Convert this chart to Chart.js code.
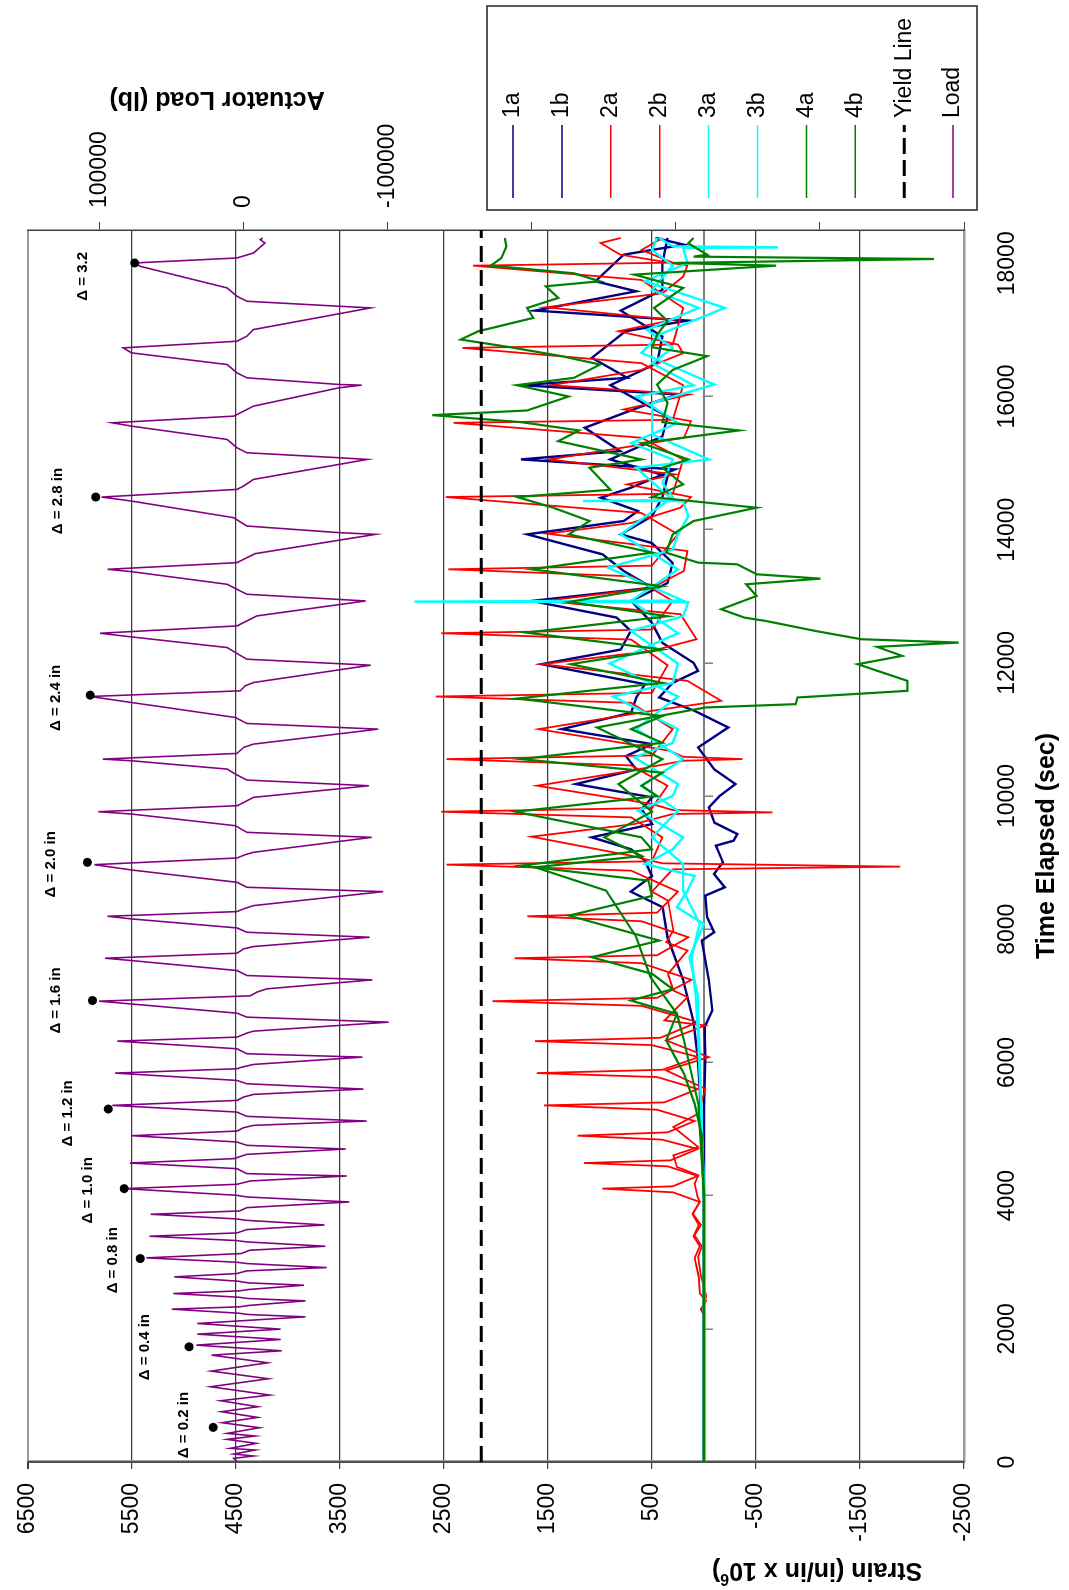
<!DOCTYPE html>
<html>
<head>
<meta charset="utf-8">
<title>Strain gauges and actuator load vs time</title>
<script src="https://cdn.jsdelivr.net/npm/chart.js@4.4.0/dist/chart.umd.min.js"></script>
<style>
  html, body { margin: 0; padding: 0; background: #fff; }
  body { width: 1069px; height: 1590px; overflow: hidden; position: relative; }
  /* the chart is drawn landscape and turned a quarter turn, like the scanned page */
  #turn { position: absolute; left: 0; top: 0; width: 1590px; height: 1069px;
          transform-origin: 0 0; transform: translate(0, 1590px) rotate(-90deg); }
</style>
</head>
<body>
<div id="turn"><canvas id="chart" width="1590" height="1069"></canvas></div>
<script>
const FONT = '"Liberation Sans", Arial, sans-serif';

const timeTicks = [0, 2000, 4000, 6000, 8000, 10000, 12000, 14000, 16000, 18000];
const strainTicks = [-2500, -1500, -500, 500, 1500, 2500, 3500, 4500, 5500, 6500];
const loadTicks = [-500000, -400000, -300000, -200000, -100000, 0, 100000];

// [time (sec), actuator load (lb)]
const loadPts = [[5,4800],[55,7000],[90,-6700],[120,7000],[180,-7800],[205,9400],[280,-8500],[340,11600],[390,-7800],[430,11600],[515,-10800],[590,15100],[670,-9400],[755,15500],[830,-9700],[920,16200],[1005,-18100],[1130,23100],[1250,-17000],[1365,22600],[1490,-16500],[1605,22400],[1670,-26200],[1755,33000],[1840,-25500],[1920,32300],[1995,-25500],[2080,32300],
  [2180,-42700],[2215,-3000],[2235,4000],[2295,50100],[2330,3000],[2350,-3000],[2420,-42700],[2455,-3000],[2475,4000],[2530,49000],[2570,3000],[2590,-3000],[2655,-41700],[2690,-3000],[2715,4000],[2780,48300],[2830,4800],[2870,-2000],[2920,-57500],[2980,-2000],[3000,5000],[3065,67800],[3130,2000],[3180,-4000],[3240,-56600],[3305,-2000],[3325,5000],[3390,65500],[3440,4800],[3490,-2100],[3560,-56000],[3630,-1000],[3650,5000],[3720,64800],[3770,3000],[3820,-2100],[3905,-73100],[3980,-2000],[4005,5000],[4105,83100],[4170,4800],[4220,-4500],[4295,-71500],[4330,-2100],[4405,4800],[4490,79200],[4555,7000],[4620,-2100],[4700,-70800],[4755,-2100],[4805,4800],[4900,77600],
  [4970,4800],[5020,200],[5055,-6700],[5120,-85300],[5190,-2100],[5255,4800],[5355,91400],[5430,4800],[5480,200],[5520,-6700],[5600,-83000],[5680,-2100],[5730,4800],[5840,89500],[5905,4800],[5930,1300],[5970,-6700],[6080,-82300],[6130,-2100],[6205,4800],[6320,87900],[6380,4800],[6440,-2100],[6470,-6700],[6605,-100600],[6680,-2100],[6740,4800],[6920,100500],[7000,-4400],[7055,-9000],[7105,-15900],[7240,-89200],[7305,-2100],[7380,4800],[7530,78000],[7565,96400],[7640,4800],[7705,200],[7740,-6700],[7880,-87300],[7955,-2100],[8020,4800],[8155,78000],[8195,94600],[8265,4800],[8305,200],[8355,-6700],[8565,-96700],[8630,-2100],[8705,4800],[8890,78000],[8970,103700],
  [9070,4800],[9120,-1000],[9155,-6700],[9380,-88700],[9455,-2100],[9555,5900],[9730,78000],[9765,101000],[9855,4800],[9890,1300],[9980,-6700],[10155,-86900],[10240,-2100],[10330,5900],[10405,11600],[10530,78000],[10555,98000],[10640,4800],[10730,200],[10780,-6700],[11005,-93300],[11090,-2100],[11180,5900],[11405,78000],[11495,106700],[11580,2500],[11655,-1000],[11705,-6700],[11965,-88000],[12055,-2100],[12155,5900],[12230,11600],[12390,78000],[12445,99800],[12555,4800],[12630,-2100],[12705,-9000],[12930,-84600],[13030,-2100],[13105,4800],[13180,11600],[13370,78000],[13405,94600],[13505,4800],[13555,200],[13640,-7800],[13930,-91500],
  [13955,-66300],[14055,-2100],[14180,7000],[14430,78000],[14490,98700],[14605,4800],[14655,200],[14755,-6700],[15055,-85700],[15080,-66300],[15155,-2100],[15230,4800],[15355,11600],[15555,78000],[15605,91400],[15705,7000],[15780,200],[15855,-6700],[16130,-66000],[16170,-81800],[16180,-66300],[16280,-2100],[16355,4800],[16480,11600],[16655,78000],[16730,83800],[16830,4800],[16905,-2100],[17005,-6700],[17330,-88000],[17355,-66300],[17430,-2100],[17505,4800],[17630,11600],[17955,72000],[18005,75800],[18080,4800],[18155,-6700],[18305,-14700],[18355,-11300],[18380,-13100]];

// [time (sec), strain (in/in x 10^6)]
const strain1a = [[0,0],[4000,0],[5330,0],[6080,-13],[6530,-6],[6780,-81],[7230,-47],[7830,21],[7955,-98],[8180,-30],[8505,-13],[8630,-200],[8830,-98],[9005,-183],[9255,-115],[9330,-285],[9430,-320],[9600,-100],[9830,-47],[10000,-150],[10180,-302],[10400,-100],[10730,56],[11030,-234],[11280,90],[11480,430],[11700,300],[11880,56],[12000,100],[12300,400],[12600,500],[12930,700],[13200,350],[13500,300],[13800,500],[13930,800],[14200,500],[14490,400],[14800,350],[15055,900],[15400,400],[15700,350],[16170,900],[16500,450],[16900,400],[17290,800],[17600,400],[18000,400],[18380,350]];

const strain1b = [[0,0],[4000,0],[4700,20],[5600,40],[6080,60],[6605,100],[7240,200],[7880,350],[8330,396],[8565,703],[8800,500],[9030,567],[9200,700],[9380,1078],[9580,498],[9800,600],[9980,498],[10180,1231],[10400,650],[10600,750],[10780,498],[11005,1367],[11250,700],[11480,650],[11680,567],[11980,1562],[12200,800],[12480,703],[12680,839],[12930,1657],[13130,498],[13380,771],[13630,976],[13930,1698],[14130,771],[14280,634],[14480,992],[14630,703],[14905,277],[15055,1759],[15180,805],[15530,1146],[15890,532],[16030,243],[16170,1759],[16280,737],[16580,1078],[16980,754],[17140,158],[17290,1623],[17580,652],[17730,1044],[18130,771],[18280,192],[18380,465]];

const strain2a = [[0,0],[2300,0],[2500,-20],[2800,30],[3080,55],[3240,20],[3405,90],[3560,30],[3730,107],[3905,40],[3980,60],[4180,90],[4305,55],[4430,260],[4605,294],[4730,55],[5030,294],[5230,55],[5605,-13],[5880,362],[6080,-47],[6330,362],[6555,-13],[6630,379],[6980,158],[7080,294],[7330,345],[7680,158],[7805,362],[7980,294],[8430,345],[8565,500],[8680,430],[8900,300],[8940,-1887],[8990,400],[9105,703],[9390,1657],[9580,669],[9730,300],[9755,-660],[9790,300],[9880,498],[10155,1606],[10380,703],[10530,200],[10555,-371],[10590,200],[10680,328],[11005,1589],[11280,498],[11430,-166],[11730,158],[11980,1555],[12180,498],[12355,72],[12730,226],[12930,1521],[13130,498],[13380,192],[13680,158],[13940,1510],[14100,700],[14330,226],[14490,124],[14680,737],[14830,277],[15055,1487],[15380,192],[15630,124],[15805,771],[16030,140],[16170,1470],[16400,600],[16650,200],[16780,250],[16980,822],[17150,300],[17340,1521],[17550,400],[17800,200],[17965,160],[18130,805],[18305,993],[18380,800]];

const strain2b = [[0,0],[2200,0],[2295,30],[2420,-20],[2530,40],[2780,50],[3065,90],[3240,40],[3390,100],[3560,50],[3720,110],[3905,40],[4050,300],[4105,976],[4140,300],[4295,60],[4440,350],[4490,1153],[4530,320],[4700,60],[4840,400],[4900,1214],[4950,350],[5120,90],[5290,450],[5355,1538],[5400,380],[5600,60],[5780,450],[5840,1606],[5890,400],[6080,50],[6260,500],[6320,1623],[6370,420],[6605,60],[6850,600],[6920,2032],[6970,450],[7240,120],[7490,600],[7565,1821],[7610,450],[7880,150],[8120,600],[8195,1698],[8250,450],[8565,250],[8880,700],[8970,2475],[9020,500],[9380,400],[9680,700],[9765,2526],[9820,500],[10155,350],[10460,700],[10555,2475],[10610,500],[11005,300],[11400,700],[11495,2577],[11550,500],[11965,350],[12350,700],[12445,2526],[12500,500],[12930,300],[13300,700],[13405,2458],[13460,500],[13930,250],[14250,600],[14490,2482],[14540,300],[15055,200],[15380,600],[15605,2407],[15650,300],[16170,200],[16500,600],[16730,2322],[16780,300],[17330,200],[17750,600],[17965,2219],[18010,300],[18200,600],[18380,400]];

const strain3a = [[0,0],[4000,0],[5000,20],[6000,40],[7000,60],[7580,140],[8080,0],[8330,260],[8580,158],[8800,90],[8980,567],[9200,300],[9380,200],[9780,634],[10000,300],[10180,250],[10580,669],[10800,300],[11005,250],[11495,873],[11700,300],[11990,250],[12480,703],[12700,200],[12910,150],[12920,2782],[12935,200],[13430,925],[13700,300],[13930,250],[14200,150],[14420,200],[14430,1163],[14445,300],[14930,652],[15055,-47],[15430,498],[15905,498],[16180,-98],[16655,600],[16930,430],[17330,-200],[17730,566],[18005,158],[18230,200],[18240,-711],[18255,300],[18380,430]];

const strain3b = [[0,0],[4000,0],[5500,30],[6500,60],[7000,80],[7580,120],[8080,40],[8580,200],[8980,200],[9380,500],[9780,250],[10155,600],[10555,200],[11005,650],[11495,250],[11990,907],[12445,250],[12930,700],[13405,250],[13930,800],[14490,300],[14700,400],[15055,300],[15300,700],[15605,250],[16000,650],[16170,100],[16500,500],[16730,300],[17000,550],[17330,50],[17600,500],[17965,300],[18200,500],[18380,450]];

const strain4a = [[0,0],[4000,0],[4900,20],[5380,90],[5830,192],[6330,362],[6730,260],[6930,703],[7100,300],[7330,498],[7580,1078],[7830,430],[8205,1299],[8500,500],[8730,532],[8955,1759],[9200,500],[9380,600],[9765,1811],[10000,450],[10155,600],[10350,400],[10555,1759],[10800,400],[11005,700],[11200,400],[11465,1794],[11700,400],[11980,1282],[12200,400],[12455,1708],[12700,350],[12915,1299],[13150,400],[13405,1657],[13655,500],[13930,1300],[14130,1100],[14330,1450],[14490,1794],[14600,900],[14930,1100],[15055,600],[15330,1400],[15490,1200],[15615,1759],[15720,2611],[15790,1700],[16000,1300],[16170,1800],[16280,1250],[16480,1000],[16600,1350],[16740,1862],[16855,2339],[16980,2168],[17180,1640],[17330,1700],[17480,1400],[17655,1521],[17730,1000],[17850,1250],[17965,2049],[18080,1947],[18250,1900],[18380,1913]];

const strain4b = [[0,0],[4000,0],[5380,55],[6330,192],[6730,260],[7280,515],[7890,652],[8580,941],[8930,1623],[9100,600],[9380,958],[9765,500],[10180,822],[10555,400],[11030,1027],[11330,-13],[11380,-882],[11480,-899],[11580,-1955],[11730,-1955],[11980,-1478],[12105,-1904],[12240,-1666],[12305,-2450],[12355,-1512],[12480,-1069],[12630,-592],[12680,-388],[12805,-166],[13005,-507],[13180,-405],[13265,-1120],[13330,-507],[13480,-320],[13505,55],[13655,362],[13930,300],[14130,100],[14330,-507],[14490,500],[14680,200],[14930,400],[15055,150],[15300,600],[15490,-337],[15615,400],[15905,350],[16180,450],[16400,300],[16605,-30],[16740,500],[16930,450],[17130,350],[17330,480],[17630,200],[17830,669],[17965,-694],[18005,300],[18065,-2211],[18100,100],[18130,-30],[18300,150],[18380,100]];

const yieldStrain = 2140;

// first cycle of each displacement step
const stepLabels = ['Δ = 0.2 in', 'Δ = 0.4 in', 'Δ = 0.8 in', 'Δ = 1.0 in', 'Δ = 1.2 in', 'Δ = 1.6 in', 'Δ = 2.0 in', 'Δ = 2.4 in', 'Δ = 2.8 in', 'Δ = 3.2'];
const dotTime = [520, 1730, 3055, 4105, 5300, 6930, 9005, 11515, 14490, 18005];
const dotLoad = [21300, 38000, 71900, 83100, 94100, 105100, 108600, 106700, 102800, 75800];
const labelTime = [555, 1725, 3030, 4080, 5235, 6930, 8975, 11475, 14430, 17805];
const labelLoad = [41650, 68450, 91130, 108320, 122060, 130310, 133750, 130310, 128930, 111750];

function pts(list) {
  return list.map(p => ({x: p[0], y: p[1]}));
}

function fixedTicks(values) {
  return s => { s.ticks = values.map(v => ({value: v})); };
}

function strainSet(label, data, color, width, order) {
  return {label: label, data: pts(data), borderColor: color, backgroundColor: color,
          borderWidth: width, pointRadius: 0, tension: 0, yAxisID: 'y', order: order};
}

const datasets = [
  strainSet('1a', strain1a, '#000080', 2.4, 10),
  strainSet('1b', strain1b, '#000080', 2.4, 9),
  strainSet('2a', strain2a, '#ff0000', 1.8, 8),
  strainSet('2b', strain2b, '#ff0000', 1.8, 7),
  strainSet('3a', strain3a, '#00ffff', 2.4, 6),
  strainSet('3b', strain3b, '#00ffff', 2.4, 5),
  strainSet('4a', strain4a, '#008000', 2.2, 4),
  strainSet('4b', strain4b, '#008000', 2.2, 3),
  {label: 'Yield Line', data: [{x: 0, y: yieldStrain}, {x: 18500, y: yieldStrain}], borderColor: '#000',
   borderWidth: 3, borderDash: [16, 8], pointRadius: 0, yAxisID: 'y', order: 2},
  {label: 'Load', data: pts(loadPts), borderColor: '#800080', backgroundColor: '#800080',
   borderWidth: 1.6, pointRadius: 0, tension: 0, yAxisID: 'y2', order: 1},
  {label: 'steps', data: dotTime.map((t, i) => ({x: t, y: dotLoad[i]})), showLine: false,
   pointRadius: 4.5, pointBackgroundColor: '#000', pointBorderWidth: 0, yAxisID: 'y2', order: 0}
];

function strainTitle(ctx, cx, cy) {
  const a = 'Strain (in/in x 10', b = '6', c = ')';
  ctx.font = 'bold 25px ' + FONT;
  const wa = ctx.measureText(a).width, wc = ctx.measureText(c).width;
  ctx.font = 'bold 16px ' + FONT;
  const wb = ctx.measureText(b).width;
  ctx.save();
  ctx.translate(cx, cy);
  ctx.rotate(-Math.PI / 2);
  ctx.textAlign = 'left';
  ctx.textBaseline = 'middle';
  let pos = -(wa + wb + wc) / 2;
  ctx.font = 'bold 25px ' + FONT;
  ctx.fillText(a, pos, 0);
  pos += wa;
  ctx.font = 'bold 16px ' + FONT;
  ctx.fillText(b, pos, -8);
  pos += wb;
  ctx.font = 'bold 25px ' + FONT;
  ctx.fillText(c, pos, 0);
  ctx.restore();
}

const overlay = {
  id: 'overlay',
  afterDraw(chart) {
    const ctx = chart.ctx;
    const area = chart.chartArea;
    const xs = chart.scales.x, ls = chart.scales.y2;
    ctx.save();
    ctx.fillStyle = '#000';

    ctx.font = 'bold 15px ' + FONT;
    ctx.textAlign = 'center';
    ctx.textBaseline = 'middle';
    stepLabels.forEach((txt, i) => {
      ctx.fillText(txt, xs.getPixelForValue(labelTime[i]), ls.getPixelForValue(labelLoad[i]));
    });

    ctx.font = 'bold 25px ' + FONT;
    ctx.fillText('Time Elapsed (sec)', (area.left + area.right) / 2, 1047);

    ctx.save();
    ctx.translate(1491, 217);
    ctx.rotate(-Math.PI / 2);
    ctx.fillText('Actuator Load (lb)', 0, 0);
    ctx.restore();

    strainTitle(ctx, 20, 817);

    // legend box (sits over the lower load tick labels, as in the original)
    const bx = 1380, by = 487, bw = 204, bh = 490;
    ctx.fillStyle = '#fff';
    ctx.fillRect(bx, by, bw, bh);
    ctx.strokeStyle = '#222';
    ctx.lineWidth = 1.5;
    ctx.strokeRect(bx, by, bw, bh);
    ctx.font = '23px ' + FONT;
    ctx.textAlign = 'left';
    const items = chart.data.datasets.filter(d => d.label !== 'steps');
    items.forEach((d, i) => {
      const cy = by + 26 + i * 48.9;
      ctx.beginPath();
      ctx.strokeStyle = d.borderColor;
      ctx.lineWidth = d.label === 'Yield Line' ? 3 : 1.5;
      ctx.setLineDash(d.label === 'Yield Line' ? [16, 6] : []);
      ctx.moveTo(bx + 12, cy);
      ctx.lineTo(bx + 85, cy);
      ctx.stroke();
      ctx.setLineDash([]);
      ctx.fillStyle = '#000';
      ctx.fillText(d.label, bx + 92, cy);
    });
    ctx.restore();
  }
};

const gridDark = '#3c3c3c';

new Chart(document.getElementById('chart'), {
  type: 'line',
  data: {datasets: datasets},
  options: {
    responsive: false,
    devicePixelRatio: 1,
    animation: false,
    events: [],
    layout: {padding: {top: 21, left: 0, right: 0, bottom: 0}},
    plugins: {legend: {display: false}, tooltip: {enabled: false}},
    font: {family: FONT},
    scales: {
      x: {
        type: 'linear', position: 'bottom', min: 0, max: 18500,
        afterBuildTicks: fixedTicks(timeTicks),
        ticks: {padding: 30, maxRotation: 0, autoSkip: false,
                color: '#000', font: {family: FONT, size: 23}, callback: v => String(v)},
        grid: {display: false, drawTicks: false},
        border: {display: true, color: '#9a9a9a', width: 2.5},
        afterFit: s => { s.height = 105; }
      },
      x2: {
        type: 'linear', position: {y: 0}, min: 0, max: 18500,
        afterBuildTicks: fixedTicks(timeTicks),
        ticks: {display: false},
        grid: {drawOnChartArea: false, drawTicks: true, tickLength: 8, color: '#808080', lineWidth: 1.5},
        border: {display: true, color: '#808080', width: 2}
      },
      y: {
        type: 'linear', position: 'left', min: -2500, max: 6500,
        afterBuildTicks: fixedTicks(strainTicks),
        ticks: {padding: 14, color: '#000', font: {family: FONT, size: 23}, callback: v => String(v)},
        grid: {
          color: c => (c.tick && (c.tick.value === 6500 || c.tick.value === -2500)) ? '#9a9a9a' : gridDark,
          lineWidth: c => (c.tick && c.tick.value === 6500) ? 2 : 1.2,
          tickColor: gridDark, tickLength: 7
        },
        border: {display: true, color: '#505050', width: 2.5},
        afterFit: s => { s.width = 128; }
      },
      y2: {
        type: 'linear', position: 'right', min: -500000, max: 150000,
        afterBuildTicks: fixedTicks(loadTicks),
        ticks: {padding: 14, color: '#000', font: {family: FONT, size: 23}, callback: v => String(v)},
        grid: {drawOnChartArea: false, tickLength: 8, color: gridDark, tickColor: gridDark},
        border: {display: true, color: '#404040', width: 1.5},
        afterFit: s => { s.width = 230; }
      }
    }
  },
  plugins: [overlay]
});
</script>
</body>
</html>
